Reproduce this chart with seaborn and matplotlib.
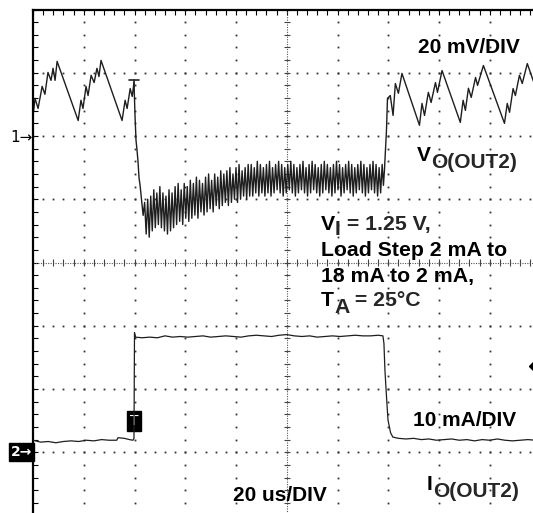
import numpy as np
import pandas as pd
import matplotlib
matplotlib.use('Agg')
import matplotlib.pyplot as plt
import seaborn as sns

# ---- scope settings ----
T_DIV, V_DIV, I_DIV = 20, 20, 10      # us/div, mV/div, mA/div
CH1_REF, CH2_REF = 2, -3              # channel ground markers, in divisions

# ---- channel 1: VO(OUT2), time in us, value in mV ----
vo_pre_t = [0.0, 0.8, 2.0, 3.6, 4.7, 5.9, 7.1, 7.9, 8.7, 9.5,
            17.8, 18.9, 19.7, 20.9, 21.7, 22.9, 24.1, 25.2, 26.0, 26.8,
            35.1, 36.3, 37.1, 38.3, 39.1, 39.8,
            40.2, 40.6, 41.0, 41.4, 41.8, 42.2, 42.6, 43.0, 43.4]
vo_pre_v = [6.2, 11.9, 8.7, 15.7, 13.2, 20.1, 17.6, 21.4, 17.6, 23.6,
            4.9, 11.3, 8.7, 15.7, 12.8, 19.2, 16.9, 21.4, 18.8, 23.9,
            4.9, 11.3, 8.7, 15.0, 12.5, 16.9,
            6.5, -1.4, -4.5, -8.3, -13.4, -15.6, -18.7, -21.9, -25.1]

# ringing while the load is at 18 mA (uniformly sampled)
vo_ring_start, vo_ring_end = 44.0, 137.6
vo_ring_v = [-21, -31, -20, -32, -19, -30, -17, -29, -18, -28,
             -16, -29, -18, -30, -19, -31, -17, -30, -18, -29,
             -16, -28, -15, -27, -17, -28, -15, -26, -16, -27,
             -14, -26, -15, -25, -13, -26, -14, -24, -15, -25,
             -13, -24, -12, -23, -14, -24, -12, -22, -13, -23,
             -11, -22, -12, -21, -11, -22, -10, -21, -12, -20,
             -10, -21, -9, -20, -11, -19, -10, -20, -9, -19,
             -9, -19, -10, -18, -8, -19, -9, -18, -10, -19,
             -9, -18, -8, -19, -10, -18, -9, -17, -8, -18,
             -9, -19, -10, -18, -9, -17, -8, -18, -9, -19,
             -10, -18, -9, -17, -8, -18, -10, -19, -9, -18,
             -8, -17, -9, -18, -10, -19, -9, -18, -8, -17,
             -9, -18, -10, -19, -9, -18, -8, -17, -9, -19,
             -10, -18, -9, -17, -8, -18, -9, -19, -10, -18,
             -9, -17, -8, -18, -9, -19, -10, -18, -9, -17,
             -8, -18, -9, -19, -10, -18, -9]

vo_post_t = [138.1, 138.5, 138.9, 139.3, 139.7, 140.8, 141.9, 142.8, 144.0, 145.4,
             152.3, 153.3, 154.3, 155.8, 156.9, 158.6, 159.4, 161.2,
             168.4, 169.5, 170.4, 171.6, 172.7, 174.4, 175.2, 177.5,
             185.8, 186.9, 187.8, 189.2, 190.1, 191.7, 192.8, 194.8, 197.1, 200.0]
vo_post_v = [-15.6, -10.8, -4.5, 1.8, 11.9, 12.8, 6.5, 16.6, 13.5, 19.8,
             3.4, 10.3, 6.5, 13.8, 10.6, 16.9, 13.8, 20.7,
             4.3, 11.3, 8.1, 15.1, 12.2, 18.5, 16.0, 22.3,
             4.0, 10.3, 7.5, 15.0, 12.8, 19.2, 16.6, 22.9, 17.6, 10.6]

# ---- channel 2: IO(OUT2), time in us, value in mA ----
io_t = ([0, 3, 6, 9, 12, 15, 18, 21, 24, 27, 30, 33, 33.5, 36, 38, 39.4]
        + [39.8, 40.0, 40.4]
        + [43, 46, 49, 52, 55, 58, 61, 64, 67, 70, 73, 76, 79, 82, 85, 88,
           91, 94, 97, 100, 103, 106, 109, 112, 115, 118, 121, 124, 127, 130, 133, 136]
        + [137.9, 138.3, 138.7, 139.4, 139.9, 140.9, 141.8]
        + [144, 147, 150, 153, 156, 159, 162, 165, 168, 171, 174, 177, 180,
           183, 186, 189, 192, 195, 198, 200])
io_i = ([1.9, 1.6, 1.7, 1.5, 1.7, 1.8, 1.7, 1.9, 1.8, 2.0, 1.9, 1.9, 2.3, 2.2, 2.0, 1.9]
        + [2.2, 18.9, 18.2]
        + [18.1, 18.2, 18.1, 18.4, 18.2, 18.3, 18.2, 18.3, 18.4, 18.2, 18.3, 18.4,
           18.3, 18.2, 18.4, 18.5, 18.4, 18.3, 18.5, 18.6, 18.4, 18.3, 18.4, 18.2,
           18.3, 18.4, 18.3, 18.4, 18.5, 18.4, 18.4, 18.5]
        + [18.4, 17.2, 12.9, 8.2, 5.1, 3.1, 2.4]
        + [2.2, 2.1, 2.2, 2.0, 2.1, 1.9, 2.0, 2.1, 1.9, 2.0, 1.8, 2.0, 1.9, 2.1,
           1.9, 1.8, 1.9, 2.0, 1.9, 1.9])

vo_t = vo_pre_t + list(np.linspace(vo_ring_start, vo_ring_end, len(vo_ring_v))) + vo_post_t
vo_v = vo_pre_v + vo_ring_v + vo_post_v
vo_df = pd.DataFrame({'t': vo_t, 'v': vo_v})
io_df = pd.DataFrame({'t': io_t, 'i': io_i})

sns.set_theme(style='white')
plt.rcParams['font.family'] = ['Liberation Sans', 'DejaVu Sans']

W, H = 533, 513
L, T, R, B = 33, 9.5, 540.5, 515.5   # screen edges in pixels


def fx(px):
    return (px - L) / (R - L)


def fy(py):
    return (B - py) / (B - T)


fig = plt.figure(figsize=(W / 100, H / 100), dpi=100)
ax = fig.add_axes([L / W, 1 - B / H, (R - L) / W, (B - T) / H])
ax.set_xlim(0, 10 * T_DIV)
ax.set_ylim((-4 - CH1_REF) * V_DIV, (4 - CH1_REF) * V_DIV)
ax.set_facecolor('white')
for s in ax.spines.values():
    s.set_color('black')
    s.set_linewidth(1.6)
ax.set_xticks(np.arange(0, 10 * T_DIV + 0.1, T_DIV / 5))
ax.set_yticks(np.arange((-4 - CH1_REF) * V_DIV, (4 - CH1_REF) * V_DIV + 0.1, V_DIV / 5))
ax.tick_params(direction='in', length=3.5, width=0.8, color='black',
               top=True, bottom=False, left=True, right=False,
               labelbottom=False, labelleft=False)

# dotted graticule
gx, gy = [], []
for k in range(1, 10):
    if k == 5:
        continue
    for j in np.arange(0, 1.0001, 0.025):
        gx.append(k / 10)
        gy.append(j)
for k in range(1, 8):
    if k == 4:
        continue
    for j in np.arange(0, 1.0001, 0.02):
        gx.append(j)
        gy.append(k / 8)
ax.plot(gx, gy, ls='none', marker='s', ms=1.3, mew=0, color='#333333', transform=ax.transAxes)

# centre axes with cross ticks
ax.plot([0, 1], [0.5, 0.5], ls=(0, (1, 1.2)), lw=0.8, color='#555555', transform=ax.transAxes)
ax.plot([0.5, 0.5], [0, 1], ls=(0, (1, 1.2)), lw=0.8, color='#555555', transform=ax.transAxes)
ax.vlines(np.arange(0, 1.0001, 0.02), 0.5 - 0.006, 0.5 + 0.006, color='#444444', lw=0.8,
          transform=ax.transAxes)
ax.hlines(np.arange(0, 1.0001, 0.025), 0.5 - 0.006, 0.5 + 0.006, color='#444444', lw=0.8,
          transform=ax.transAxes)

# traces
sns.lineplot(data=vo_df, x='t', y='v', sort=False, estimator=None, ax=ax,
             color='#1e1e1e', lw=1.0)
ax2 = ax.twinx()
ax2.set_ylim((-4 - CH2_REF) * I_DIV, (4 - CH2_REF) * I_DIV)
sns.lineplot(data=io_df, x='t', y='i', sort=False, estimator=None, ax=ax2,
             color='#1e1e1e', lw=0.9)
ax2.set_yticks([])
ax2.set_ylabel('')
ax.set_xlabel('')
ax.set_ylabel('')
for s in ax2.spines.values():
    s.set_visible(False)

# markers
ax.text(fx(L), fy(137), '1\u2192', transform=ax.transAxes, ha='right', va='center',
        fontsize=11, family=['DejaVu Sans'], color='black')
ax.text(fx(L - 1), fy(452), '2\u2192', transform=ax.transAxes, ha='right', va='center',
        fontsize=10, family=['DejaVu Sans'], color='white', fontweight='bold',
        bbox=dict(boxstyle='square,pad=0.12', fc='black', ec='black'))
ax.text(fx(134), fy(421), 'T', transform=ax.transAxes, ha='center', va='center',
        fontsize=10, family=['DejaVu Sans'], color='white',
        bbox=dict(boxstyle='square,pad=0.2', fc='black', ec='black'))
ax.plot([fx(129), fx(139)], [fy(80), fy(80)], color='#222222', lw=1.2, transform=ax.transAxes)
ax.plot([fx(134), fx(134)], [fy(80), fy(88)], color='#222222', lw=1.2, transform=ax.transAxes)
ax.plot([fx(534.5)], [fy(366)], marker='D', ms=6.5, color='black', transform=ax.transAxes)

# annotations
FS = 15


def sub_text(x, y, main, sub, rest='', drop=5, fs=FS):
    t1 = ax.text(fx(x), fy(y), main, ha='left', va='baseline', transform=ax.transAxes,
                 fontsize=fs, fontweight='bold', color='black')
    t2 = ax.annotate(sub, xy=(1, 0), xycoords=t1, xytext=(0, -drop), textcoords='offset points',
                     ha='left', va='bottom', fontsize=fs, fontweight='bold')
    if rest:
        ax.annotate(rest, xy=(1, 0), xycoords=t2, xytext=(0, drop), textcoords='offset points',
                    ha='left', va='bottom', fontsize=fs, fontweight='bold')


def plain_text(x, y, s, ha='left', fs=FS):
    ax.text(fx(x), fy(y), s, ha=ha, va='baseline', transform=ax.transAxes,
            fontsize=fs, fontweight='bold', color='black')


FS_INFO = 15.3
plain_text(469, 53, '20 mV/DIV', ha='center')
sub_text(417, 161, 'V', 'O(OUT2)')
sub_text(321, 230, 'V', 'I', ' = 1.25 V,', drop=3.5, fs=FS_INFO)
plain_text(321, 256, 'Load Step 2 mA to', fs=FS_INFO)
plain_text(321, 282, '18 mA to 2 mA,', fs=FS_INFO)
sub_text(321, 306, 'T', 'A', ' = 25\u00b0C', fs=FS_INFO)
plain_text(465, 426, '10 mA/DIV', ha='center')
sub_text(427, 490, 'I', 'O(OUT2)')
plain_text(280, 501, '20 us/DIV', ha='center')

fig.savefig('out.png', dpi=100)
